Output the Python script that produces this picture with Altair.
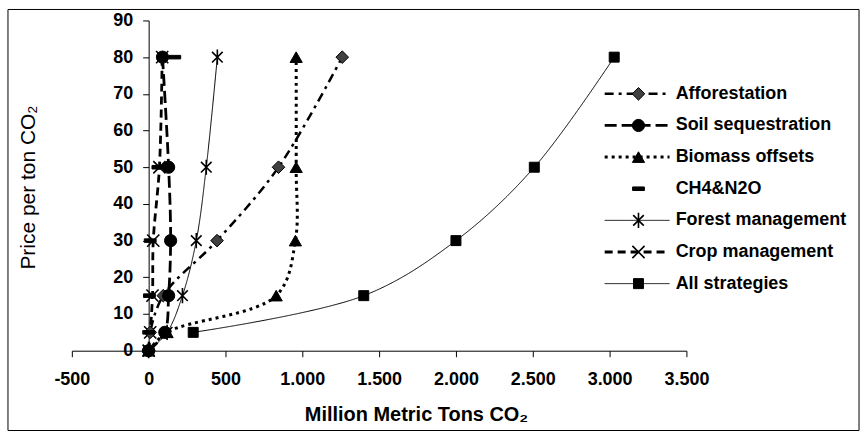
import altair as alt
import pandas as pd

# ---------------- data ----------------
prices = [0, 5, 15, 30, 50, 80]
series_names = ["Afforestation", "Soil sequestration", "Biomass offsets", "CH4&N2O",
                "Forest management", "Crop management", "All strategies"]
afforestation = [0, 10, 95, 445, 845, 1260]
soil_sequestration = [0, 105, 130, 143, 130, 90]
biomass_offsets = [0, 120, 830, 955, 960, 960]
ch4_n2o = [0, 0, 5, 10, 60, 170]
forest_management = [0, 120, 220, 310, 375, 447]
crop_management = [0, 10, 25, 30, 70, 88]
all_strategies = [None, 290, 1400, 2000, 2510, 3030]

x_ticks = [-500, 0, 500, 1000, 1500, 2000, 2500, 3000, 3500]
y_ticks = [0, 10, 20, 30, 40, 50, 60, 70, 80, 90]

values = [afforestation, soil_sequestration, biomass_offsets, ch4_n2o,
          forest_management, crop_management, all_strategies]

rows = []
for name, vals in zip(series_names, values):
    for p, v in zip(prices, vals):
        if v is not None:
            rows.append({"series": name, "mt": v, "price": p})
df = pd.DataFrame(rows)

# legend table (positions in data units, inside the plot's upper right)
leg = pd.DataFrame({"series": series_names, "i": list(range(len(series_names)))})

# ---------------- styling ----------------
FONT = "Liberation Sans"
W, H = 616, 331
XMIN, XMAX = -500, 3500
px_per_unit = W / (XMAX - XMIN)

dash_range = [[9, 5, 3, 5], [12, 5], [3, 4], [1, 0], [1, 0], [8, 5], [1, 0]]
width_range = [2.5, 2.8, 3, 0, 1, 2.8, 1]
shape_range = ["diamond", "circle", "triangle-up", "M-1,-0.3L1,-0.3L1,0.3L-1,0.3Z",
               "M-0.7,-0.7L0.7,0.7M-0.7,0.7L0.7,-0.7M0,-1L0,1",
               "M-1,-1L1,1M-1,1L1,-1", "square"]
size_range = [160, 150, 150, 140, 230, 150, 100]
fill_range = ["#404040", "black", "black", "black", "black", "black", "black"]

xscale = alt.Scale(domain=[XMIN, XMAX], nice=False, zero=False)
yscale = alt.Scale(domain=[0, 90], nice=False, zero=False)

xaxis = alt.Axis(values=x_ticks,
                 labelExpr="(datum.value < 0 ? '-' : '') + replace(format(abs(datum.value), ','), ',', '.')",
                 labelFlush=False, labelOverlap=False,
                 grid=False, domainColor="black", tickColor="black", tickSize=6,
                 labelFont=FONT, labelFontSize=18, labelFontWeight="bold", labelColor="black",
                 labelPadding=14,
                 title="Million Metric Tons CO₂", titleFont=FONT, titleFontSize=20,
                 titleFontWeight="bold", titleColor="black", titleX=345, titleY=70,
                 titleAlign="center", titleBaseline="alphabetic")
yaxis = alt.Axis(values=y_ticks, offset=-round(500 * px_per_unit), grid=False,
                 labelFlush=False, labelOverlap=False,
                 domainColor="black", tickColor="black", tickSize=6,
                 labelFont=FONT, labelFontSize=18, labelFontWeight="bold", labelColor="black",
                 labelPadding=10,
                 title="Price per ton CO₂", titleFont=FONT, titleFontSize=21,
                 titleFontWeight="normal", titleColor="black", titleX=-120, titleY=167,
                 titleAngle=-90, titleAlign="center", titleBaseline="middle")

dash_scale = alt.Scale(domain=series_names, range=dash_range)
width_scale = alt.Scale(type="ordinal", domain=series_names, range=width_range)
shape_scale = alt.Scale(domain=series_names, range=shape_range)
size_scale = alt.Scale(type="ordinal", domain=series_names, range=size_range)
fill_scale = alt.Scale(domain=series_names, range=fill_range)


def X(field):
    return alt.X(f"{field}:Q", scale=xscale, axis=xaxis)


def Y(field):
    return alt.Y(f"{field}:Q", scale=yscale, axis=yaxis)


base = alt.Chart(df)

lines = base.transform_filter(alt.datum.series != "CH4&N2O").mark_line(
    color="black", interpolate="catmull-rom", strokeCap="butt"
).encode(
    x=X("mt"), y=Y("price"),
    detail="series:N",
    order=alt.Order("price:Q"),
    strokeDash=alt.StrokeDash("series:N", scale=dash_scale, legend=None),
    strokeWidth=alt.StrokeWidth("series:N", scale=width_scale, legend=None),
)

filled_set = ["Afforestation", "Soil sequestration", "Biomass offsets", "CH4&N2O", "All strategies"]
open_set = ["Forest management", "Crop management"]

pts_filled = base.transform_filter(
    alt.FieldOneOfPredicate(field="series", oneOf=filled_set)
).mark_point(filled=True, opacity=1, stroke="black", strokeWidth=1).encode(
    x=X("mt"), y=Y("price"),
    shape=alt.Shape("series:N", scale=shape_scale, legend=None),
    size=alt.Size("series:N", scale=size_scale, legend=None),
    fill=alt.Fill("series:N", scale=fill_scale, legend=None),
)

pts_open = base.transform_filter(
    alt.FieldOneOfPredicate(field="series", oneOf=open_set)
).mark_point(filled=False, opacity=1, color="black", strokeWidth=1.6).encode(
    x=X("mt"), y=Y("price"),
    shape=alt.Shape("series:N", scale=shape_scale, legend=None),
    size=alt.Size("series:N", scale=size_scale, legend=None),
)

# ----- custom legend -----
lbase = alt.Chart(leg).transform_calculate(
    ly="70 - datum.i * 8.62", lx1="2968", lx2="3390", lxm="3188", ltx="3430"
)
leg_lines = lbase.transform_filter(alt.datum.series != "CH4&N2O").mark_rule(
    color="black", strokeCap="butt"
).encode(
    x=X("lx1"), x2="lx2:Q", y=Y("ly"),
    strokeDash=alt.StrokeDash("series:N", scale=dash_scale, legend=None),
    strokeWidth=alt.StrokeWidth("series:N", scale=width_scale, legend=None),
)
leg_pf = lbase.transform_filter(
    alt.FieldOneOfPredicate(field="series", oneOf=filled_set)
).mark_point(filled=True, opacity=1, stroke="black", strokeWidth=1).encode(
    x=X("lxm"), y=Y("ly"),
    shape=alt.Shape("series:N", scale=shape_scale, legend=None),
    size=alt.Size("series:N", scale=size_scale, legend=None),
    fill=alt.Fill("series:N", scale=fill_scale, legend=None),
)
leg_po = lbase.transform_filter(
    alt.FieldOneOfPredicate(field="series", oneOf=open_set)
).mark_point(filled=False, opacity=1, color="black", strokeWidth=1.6).encode(
    x=X("lxm"), y=Y("ly"),
    shape=alt.Shape("series:N", scale=shape_scale, legend=None),
    size=alt.Size("series:N", scale=size_scale, legend=None),
)
leg_text = lbase.mark_text(
    align="left", baseline="middle", font=FONT, fontSize=18, fontWeight="bold", color="black"
).encode(x=X("ltx"), y=Y("ly"), text="series:N")

# outer chart border
border = alt.Chart(pd.DataFrame({"b": [0]})).mark_rect(
    fill=None, stroke="black", strokeWidth=1
).encode(x=alt.value(-64), x2=alt.value(789), y=alt.value(-11), y2=alt.value(411))

chart = alt.layer(
    border, lines, pts_open, pts_filled, leg_lines, leg_po, leg_pf, leg_text
).properties(
    width=W, height=H,
    padding={"left": 7, "top": 8, "right": 7, "bottom": 6},
    background="white",
).configure_view(stroke=None)

chart.save("out.html", embed_options={"renderer": "svg", "actions": False})
